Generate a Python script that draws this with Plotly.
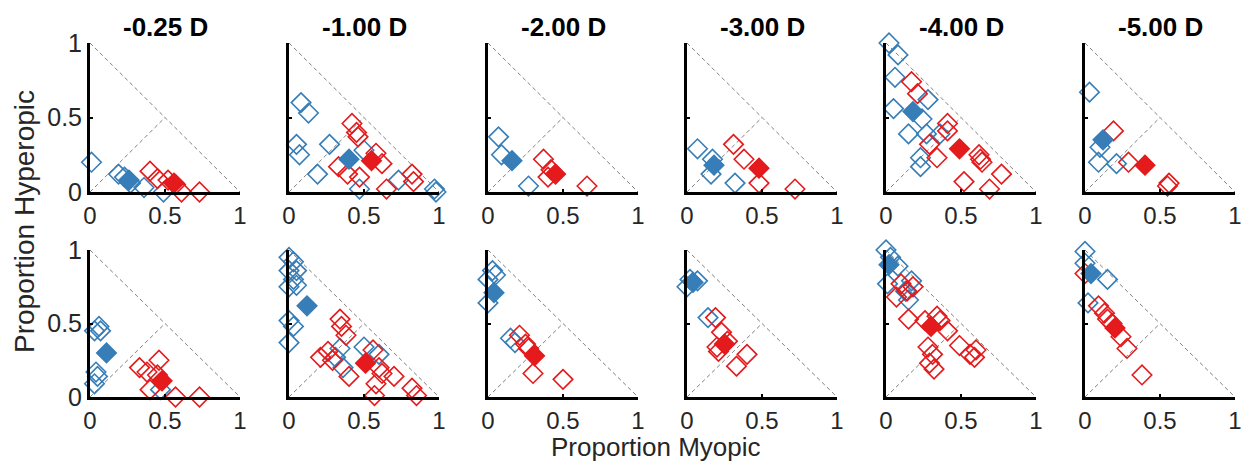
import plotly.graph_objects as go

W, H = 1244, 462

TITLES = ['-0.25 D', '-1.00 D', '-2.00 D', '-3.00 D', '-4.00 D', '-5.00 D']
TICK_VALS = [0, 0.5, 1]
TICK_TEXT = ['0', '0.5', '1']

# reference (dashed) lines
DIAG_X = [0, 1]
DIAG_Y = [1, 0]
MID_X = [0, 0.5]
MID_Y = [0, 0.5]

# ---------- top row: individual points ----------
BLUE_TOP_X = [
    [0.01, 0.19, 0.23, 0.36, 0.49, 0.27],
    [0.08, 0.13, 0.05, 0.07, 0.19, 0.27, 0.47, 0.50, 0.73, 0.97, 0.98],
    [0.07, 0.09, 0.27],
    [0.07, 0.17, 0.16, 0.32],
    [0.02, 0.08, 0.06, 0.05, 0.28, 0.24, 0.15, 0.27, 0.36, 0.23, 0.23],
    [0.03, 0.10, 0.09, 0.21],
]
BLUE_TOP_Y = [
    [0.20, 0.12, 0.10, 0.03, 0.00, 0.06],
    [0.60, 0.53, 0.32, 0.25, 0.12, 0.32, 0.02, 0.28, 0.08, 0.02, 0.00],
    [0.37, 0.25, 0.04],
    [0.29, 0.22, 0.12, 0.06],
    [1.00, 0.92, 0.77, 0.56, 0.62, 0.49, 0.39, 0.39, 0.39, 0.23, 0.17],
    [0.67, 0.30, 0.20, 0.19],
]
RED_TOP_X = [
    [0.40, 0.45, 0.52, 0.57, 0.61, 0.73],
    [0.42, 0.45, 0.46, 0.33, 0.39, 0.47, 0.58, 0.62, 0.65, 0.82, 0.83],
    [0.37, 0.40, 0.42, 0.66],
    [0.31, 0.38, 0.48, 0.72],
    [0.17, 0.21, 0.41, 0.41, 0.29, 0.34, 0.62, 0.63, 0.64, 0.77, 0.52, 0.69],
    [0.19, 0.29, 0.55, 0.56],
]
RED_TOP_Y = [
    [0.14, 0.09, 0.08, 0.05, 0.00, 0.00],
    [0.46, 0.40, 0.37, 0.17, 0.12, 0.10, 0.26, 0.19, 0.02, 0.12, 0.07],
    [0.22, 0.10, 0.15, 0.04],
    [0.32, 0.22, 0.06, 0.02],
    [0.74, 0.66, 0.46, 0.41, 0.32, 0.23, 0.25, 0.22, 0.20, 0.12, 0.07, 0.02],
    [0.41, 0.20, 0.04, 0.06],
]
BLUE_MEAN_TOP_X = [0.26, 0.40, 0.16, 0.18, 0.18, 0.12]
BLUE_MEAN_TOP_Y = [0.08, 0.22, 0.21, 0.18, 0.54, 0.35]
RED_MEAN_TOP_X = [0.56, 0.55, 0.45, 0.48, 0.49, 0.40]
RED_MEAN_TOP_Y = [0.06, 0.21, 0.12, 0.16, 0.29, 0.18]

# ---------- bottom row: individual points ----------
BLUE_BOT_X = [
    [0.03, 0.06, 0.07, 0.04, 0.05, 0.03, 0.47],
    [0.00, 0.03, 0.00, 0.05, 0.03, 0.00, 0.05, 0.00, 0.03, 0.00, 0.34, 0.31, 0.36, 0.50, 0.60],
    [0.03, 0.00, 0.05, 0.00, 0.15, 0.18],
    [-0.01, 0.02, 0.07, 0.00, 0.14],
    [0.00, -0.02, 0.03, 0.08, 0.01, 0.17, 0.13, 0.15],
    [0.00, 0.00, -0.01, 0.15, 0.02],
]
BLUE_BOT_Y = [
    [0.45, 0.48, 0.45, 0.17, 0.14, 0.09, 0.05],
    [0.95, 0.92, 0.86, 0.86, 0.80, 0.75, 0.76, 0.52, 0.48, 0.37, 0.33, 0.27, 0.20, 0.34, 0.29],
    [0.86, 0.80, 0.83, 0.64, 0.40, 0.37],
    [0.84, 0.80, 0.79, 0.75, 0.54],
    [1.00, 0.97, 0.95, 0.89, 0.77, 0.79, 0.72, 0.66],
    [0.99, 0.91, 0.86, 0.80, 0.64],
]
RED_BOT_X = [
    [0.33, 0.38, 0.46, 0.40, 0.57, 0.73, 0.45],
    [0.34, 0.35, 0.38, 0.21, 0.26, 0.29, 0.40, 0.56, 0.60, 0.62, 0.58, 0.57, 0.70, 0.82, 0.85],
    [0.21, 0.25, 0.27, 0.30, 0.50],
    [0.19, 0.23, 0.20, 0.21, 0.33, 0.40, 0.27],
    [0.07, 0.10, 0.14, 0.18, 0.15, 0.26, 0.34, 0.36, 0.41, 0.28, 0.31, 0.29, 0.32, 0.49, 0.56, 0.60, 0.59],
    [0.09, 0.13, 0.15, 0.18, 0.24, 0.28, 0.38, 0.00],
]
RED_BOT_Y = [
    [0.20, 0.17, 0.25, 0.05, 0.00, 0.00, 0.15],
    [0.53, 0.48, 0.42, 0.27, 0.31, 0.25, 0.14, 0.32, 0.20, 0.16, 0.09, 0.01, 0.14, 0.06, 0.01],
    [0.42, 0.36, 0.33, 0.16, 0.12],
    [0.54, 0.44, 0.34, 0.31, 0.21, 0.29, 0.38],
    [0.68, 0.77, 0.72, 0.75, 0.53, 0.52, 0.55, 0.52, 0.45, 0.34, 0.29, 0.23, 0.19, 0.35, 0.29, 0.32, 0.27],
    [0.62, 0.57, 0.53, 0.50, 0.41, 0.33, 0.15, 0.84],
]
BLUE_MEAN_BOT_X = [0.11, 0.12, 0.04, 0.04, 0.02, 0.04]
BLUE_MEAN_BOT_Y = [0.30, 0.62, 0.71, 0.78, 0.90, 0.84]
RED_MEAN_BOT_X = [0.48, 0.51, 0.31, 0.25, 0.30, 0.20]
RED_MEAN_BOT_Y = [0.11, 0.23, 0.28, 0.36, 0.48, 0.47]

BLUE = '#377EB8'
RED = '#E41A1C'
FONT = 'Liberation Sans, Arial, sans-serif'
TICK_COLOR = '#262626'
MSIZE = 15

# panel geometry in pixels
COL_X0 = [90 + 199 * c for c in range(6)]
PANEL_W = 150
ROW_Y = [(43, 192), (250, 397)]  # (top px, bottom px)

fig = go.Figure()
layout = {}

rows = [
    (BLUE_TOP_X, BLUE_TOP_Y, RED_TOP_X, RED_TOP_Y,
     BLUE_MEAN_TOP_X, BLUE_MEAN_TOP_Y, RED_MEAN_TOP_X, RED_MEAN_TOP_Y),
    (BLUE_BOT_X, BLUE_BOT_Y, RED_BOT_X, RED_BOT_Y,
     BLUE_MEAN_BOT_X, BLUE_MEAN_BOT_Y, RED_MEAN_BOT_X, RED_MEAN_BOT_Y),
]

annotations = []
for r in range(2):
    bx, by, rx, ry, bmx, bmy, rmx, rmy = rows[r]
    for c in range(6):
        idx = r * 6 + c + 1
        xs = '' if idx == 1 else str(idx)
        xref, yref = 'x' + xs, 'y' + xs
        x0 = COL_X0[c]
        top, bot = ROW_Y[r]
        layout['xaxis' + xs] = dict(
            domain=[x0 / W, (x0 + PANEL_W) / W], range=[0, 1], anchor=yref,
            showgrid=False, zeroline=False, showline=True, linewidth=3,
            linecolor='#000000', ticks='inside', ticklen=3, tickwidth=1.5,
            tickcolor='#000000', tickvals=TICK_VALS, ticktext=TICK_TEXT,
            tickfont=dict(family=FONT, size=24, color=TICK_COLOR),
            automargin=False, fixedrange=True)
        layout['yaxis' + xs] = dict(
            domain=[1 - bot / H, 1 - top / H], range=[0, 1], anchor=xref,
            showgrid=False, zeroline=False, showline=True, linewidth=3,
            linecolor='#000000', ticks='inside', ticklen=3, tickwidth=1.5,
            tickcolor='#000000', tickvals=TICK_VALS, ticktext=TICK_TEXT,
            tickfont=dict(family=FONT, size=25, color=TICK_COLOR),
            showticklabels=(c == 0), automargin=False, fixedrange=True)

        for lx, ly in ((DIAG_X, DIAG_Y), (MID_X, MID_Y)):
            fig.add_trace(go.Scatter(
                x=lx, y=ly, mode='lines', xaxis=xref, yaxis=yref,
                line=dict(color='#606060', width=0.8, dash='4px,3px'),
                showlegend=False, hoverinfo='skip'))

        fig.add_trace(go.Scatter(
            x=bx[c], y=by[c], mode='markers', xaxis=xref, yaxis=yref,
            cliponaxis=False, showlegend=False,
            marker=dict(symbol='diamond-open', size=MSIZE, color=BLUE,
                        line=dict(color=BLUE, width=1.6))))
        fig.add_trace(go.Scatter(
            x=rx[c], y=ry[c], mode='markers', xaxis=xref, yaxis=yref,
            cliponaxis=False, showlegend=False,
            marker=dict(symbol='diamond-open', size=MSIZE, color=RED,
                        line=dict(color=RED, width=1.6))))
        fig.add_trace(go.Scatter(
            x=[bmx[c]], y=[bmy[c]], mode='markers', xaxis=xref, yaxis=yref,
            cliponaxis=False, showlegend=False,
            marker=dict(symbol='diamond', size=MSIZE, color=BLUE,
                        line=dict(color=BLUE, width=1.6))))
        fig.add_trace(go.Scatter(
            x=[rmx[c]], y=[rmy[c]], mode='markers', xaxis=xref, yaxis=yref,
            cliponaxis=False, showlegend=False,
            marker=dict(symbol='diamond', size=MSIZE, color=RED,
                        line=dict(color=RED, width=1.6))))

        if r == 0:
            annotations.append(dict(
                text='<b>' + TITLES[c] + '</b>', xref='paper', yref='paper',
                x=(x0 + PANEL_W / 2) / W, y=1 - 27 / H, showarrow=False,
                xanchor='center', yanchor='middle',
                font=dict(family=FONT, size=26, color='#000000')))

annotations.append(dict(
    text='Proportion Hyperopic', xref='paper', yref='paper',
    x=24 / W, y=1 - 222 / H, showarrow=False, textangle=-90,
    xanchor='center', yanchor='middle',
    font=dict(family=FONT, size=28, color=TICK_COLOR)))
annotations.append(dict(
    text='Proportion Myopic', xref='paper', yref='paper',
    x=656 / W, y=1 - 447 / H, showarrow=False,
    xanchor='center', yanchor='middle',
    font=dict(family=FONT, size=26, color=TICK_COLOR)))

fig.update_layout(
    width=W, height=H,
    margin=dict(l=0, r=0, t=0, b=0, pad=0, autoexpand=False),
    paper_bgcolor='white', plot_bgcolor='white', showlegend=False,
    annotations=annotations, **layout)

fig.write_html('out.html')
